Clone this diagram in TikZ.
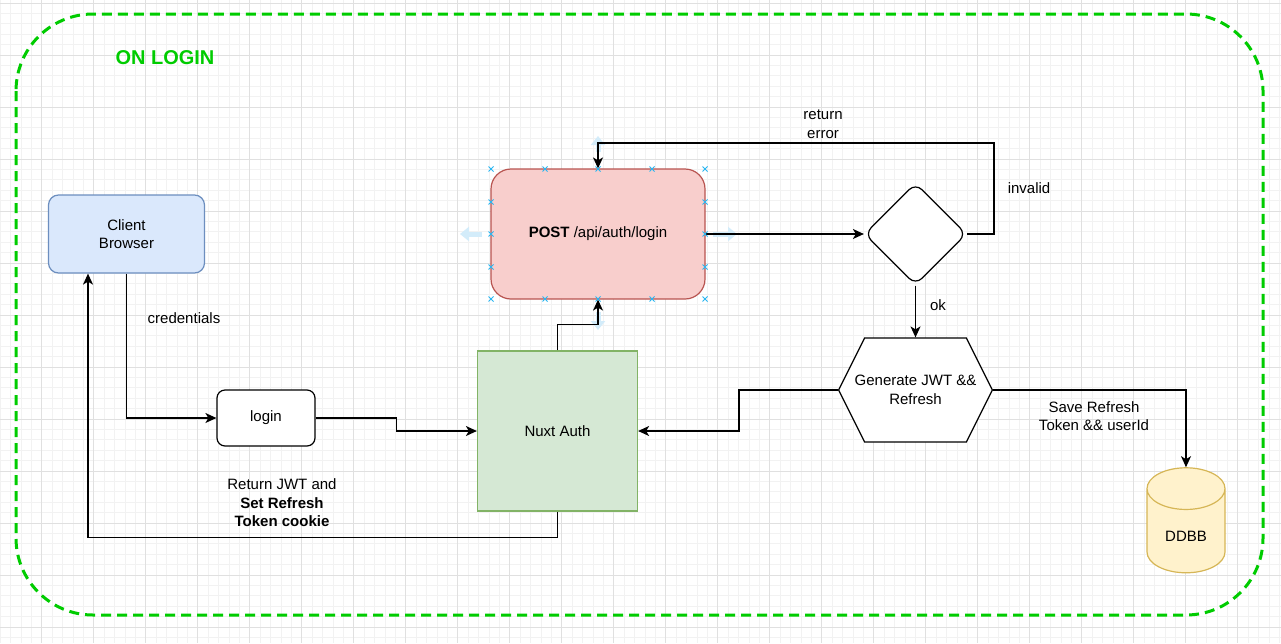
\documentclass[tikz,border=0pt]{standalone}
\usepackage{fontspec}
\setmainfont{Liberation Sans}
\usetikzlibrary{arrows.meta,shapes.geometric,shapes.symbols,calc}

\definecolor{loginGreen}{HTML}{00CC00}
\definecolor{clientFill}{HTML}{DAE8FC}
\definecolor{clientLine}{HTML}{6C8EBF}
\definecolor{postFill}{HTML}{F8CECC}
\definecolor{postLine}{HTML}{B85450}
\definecolor{nuxtFill}{HTML}{D5E8D4}
\definecolor{nuxtLine}{HTML}{82B366}
\definecolor{dbFill}{HTML}{FFF2CC}
\definecolor{dbLine}{HTML}{D6B656}
\definecolor{handleBlue}{HTML}{29B6F2}
\definecolor{hoverBlue}{HTML}{D3ECFA}

\begin{document}
\begin{tikzpicture}[x=1pt, y=-1pt, font=\fontsize{15}{18.5}\selectfont,
		gridminor/.style={color=black!5, line width=0.8pt},
		gridmajor/.style={color=black!12, line width=0.8pt},
		box/.style={draw, line width=1.2pt, inner sep=0pt, align=center},
		conn/.style={black, line width=1.3pt, -{Stealth[length=11pt, width=10pt, inset=3pt]}},
		handle/.style={handleBlue, line width=0.9pt},
		hover/.style={hoverBlue, line width=5pt, -{Triangle[length=9pt, width=14pt]}},
		lbl/.style={align=center, inner sep=0pt}]
					\useasboundingbox (0,0) rectangle (1281,643);
					\fill[white] (0,0) rectangle (1281,643);
					
					\foreach \i in {0,...,123} \draw[gridminor] ({0.1+10.4*\i},0) -- ++(0,643);
					\foreach \j in {0,...,61} \draw[gridminor] (0,{3+10.4*\j}) -- ++(1281,0);
					\foreach \i in {0,...,24} \draw[gridmajor] ({41.7+52*\i},0) -- ++(0,643);
					\foreach \j in {0,...,12} \draw[gridmajor] (0,{3+52*\j}) -- ++(1281,0);
					
					\draw[loginGreen, line width=3pt, dash pattern=on 10pt off 6pt, rounded corners=77pt] (16,14) rectangle (1263,615);
					\node[lbl, text=loginGreen, font=\fontsize{20}{24}\selectfont\bfseries] (title) at (165,58) {ON LOGIN};
					
					\draw[hover] (482,234) -- (460,234);
					\draw[hover] (713,234) -- (737,234);
					\draw[hover] (598,152) -- (598,136);
					\draw[hover] (598,312) -- (598,330);
					
					\node[box, rounded corners=10pt, fill=clientFill, draw=clientLine, minimum width=156pt, minimum height=78pt] (client) at (126.5,234) {Client\\Browser};
					\node[box, rounded corners=8pt, fill=white, minimum width=98pt, minimum height=56pt] (login) at (266,418) {login};
					\node[box, fill=nuxtFill, draw=nuxtLine, minimum width=160pt, minimum height=160pt] (nuxt) at (557.5,431) {Nuxt Auth};
					\node[box, rounded corners=20pt, fill=postFill, draw=postLine, minimum width=214pt, minimum height=130pt] (post) at (598,234) {\textbf{POST} /api/auth/login};
					\node[box, diamond, rounded corners=9pt, fill=white, minimum width=102pt, minimum height=102pt] (check) at (915.5,234) {};
					\node[box, signal, signal to=east and west, signal pointer angle=126.87, fill=white, inner xsep=-10pt, minimum height=104pt] (gen) at (915.5,390) {Generate JWT \&\&\\Refresh};
					\node[box, cylinder, shape border rotate=90, aspect=1, fill=dbFill, draw=dbLine, minimum width=78pt, minimum height=105pt, label={[lbl, yshift=-5pt]center:DDBB}] (db) at (1186,531) {\phantom{DDBB}};
					
					\draw[conn] (client.south) |- (login.west);
					\draw[conn] (login.east) -- ++(81,0) |- (nuxt.west);
					\draw[conn] (nuxt.north) -- ++(0,-26) -| (post.south);
					\draw[conn] (post.east) -- (check.west);
					\draw[conn] (check.east) -- ++(27,0) -- ++(0,-91) -| (post.north);
					\draw[conn] (check.south) -- (gen.north);
					\draw[conn] (gen.west) -- ++(-99,0) |- (nuxt.east);
					\draw[conn] (gen.east) -| (db.north);
					\draw[conn] (nuxt.south) -- ++(0,26) -| ($(client.south)+(-38.5,0)$);
					
					\node[lbl] (credLbl) at (184,318) {credentials};
					\node[lbl] (errorLbl) at (823,124) {return\\error};
					\node[lbl] (invalidLbl) at (1029,188) {invalid};
					\node[lbl] (okLbl) at (938,305) {ok};
					\node[lbl] (saveLbl) at (1094,416) {Save Refresh\\Token \&\& userId};
					\node[lbl] (jwtLbl) at (282,503) {Return JWT and\\\textbf{Set Refresh}\\\textbf{Token cookie}};
					
					\foreach \hx in {491, 545, 598, 652, 705} \foreach \hy in {169, 299} \draw[handle, shift={(\hx,\hy)}] (-2.5,-2.5) -- (2.5,2.5) (-2.5,2.5) -- (2.5,-2.5);
					\foreach \hx in {491, 705} \foreach \hy in {202, 234, 267} \draw[handle, shift={(\hx,\hy)}] (-2.5,-2.5) -- (2.5,2.5) (-2.5,2.5) -- (2.5,-2.5);
				\end{tikzpicture}
\end{document}
